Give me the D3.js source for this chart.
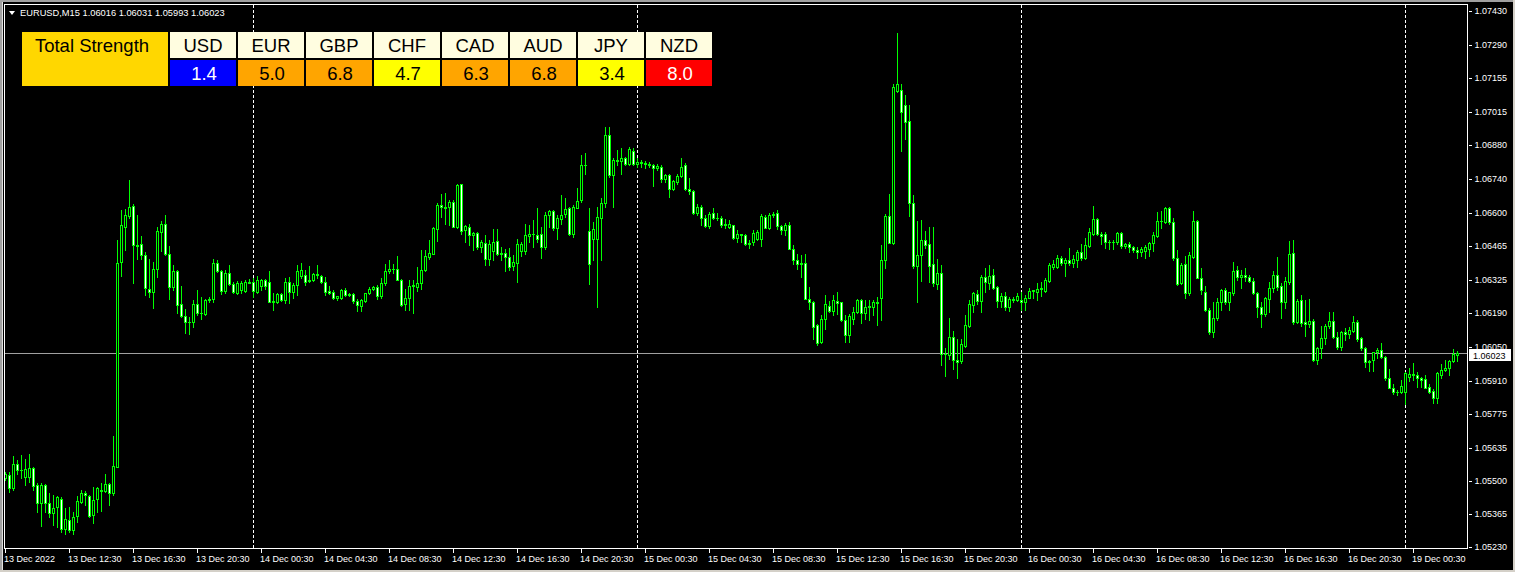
<!DOCTYPE html>
<html><head><meta charset="utf-8">
<script src="https://cdn.jsdelivr.net/npm/d3@7"></script>
<style>
html,body{margin:0;padding:0;background:#000;overflow:hidden}
svg{display:block}
text{font-family:"Liberation Sans",Arial,sans-serif}
</style></head>
<body>
<svg id="chart" width="1515" height="572"></svg>
<script>
// ---------- data (EURUSD M15, bar 0 = 13 Dec 2022 08:30) ----------
const symbolTitle = "EURUSD,M15";
const lastQuote = ["1.06016","1.06031","1.05993","1.06023"];
const currentPrice = 1.06023;

const opens = [
1.05510,1.05523,1.05471,1.05571,1.05544,1.05514,1.05514,1.05553,1.05482,1.05407,
1.05482,1.05407,1.05366,1.05391,1.05427,1.05304,1.05341,1.05300,1.05355,1.05414,
1.05452,1.05438,1.05359,1.05427,1.05458,1.05459,1.05486,1.05451,1.05557,1.06399,
1.06540,1.06588,1.06627,1.06467,1.06471,1.06426,1.06289,1.06276,1.06369,1.06522,
1.06556,1.06433,1.06296,1.06360,1.06224,1.06177,1.06153,1.06150,1.06224,1.06190,
1.06183,1.06241,1.06248,1.06396,1.06360,1.06280,1.06351,1.06306,1.06272,1.06285,
1.06278,1.06317,1.06317,1.06276,1.06299,1.06324,1.06314,1.06237,1.06232,1.06265,
1.06241,1.06314,1.06273,1.06303,1.06340,1.06344,1.06326,1.06326,1.06347,1.06340,
1.06317,1.06278,1.06276,1.06252,1.06251,1.06285,1.06262,1.06265,1.06237,1.06218,
1.06239,1.06269,1.06287,1.06296,1.06259,1.06310,1.06360,1.06369,1.06371,1.06326,
1.06225,1.06252,1.06299,1.06296,1.06310,1.06367,1.06419,1.06433,1.06533,1.06631,
1.06625,1.06622,1.06645,1.06542,1.06718,1.06529,1.06542,1.06508,1.06519,1.06458,
1.06477,1.06410,1.06443,1.06484,1.06433,1.06436,1.06417,1.06382,1.06396,1.06444,
1.06444,1.06505,1.06512,1.06508,1.06515,1.06460,1.06593,1.06607,1.06538,1.06574,
1.06597,1.06618,1.06515,1.06620,1.06652,1.06798,1.06525,1.06492,1.06494,1.06579,
1.06642,1.06921,1.06754,1.06813,1.06811,1.06825,1.06802,1.06853,1.06802,1.06809,
1.06806,1.06802,1.06797,1.06782,1.06789,1.06738,1.06757,1.06697,1.06727,1.06752,
1.06795,1.06697,1.06689,1.06601,1.06624,1.06577,1.06546,1.06601,1.06579,1.06577,
1.06555,1.06542,1.06549,1.06497,1.06512,1.06511,1.06474,1.06481,1.06494,1.06494,
1.06583,1.06536,1.06593,1.06601,1.06545,1.06531,1.06552,1.06453,1.06408,1.06388,
1.06396,1.06248,1.06232,1.06139,1.06068,1.06163,1.06218,1.06196,1.06237,1.06232,
1.06159,1.06100,1.06166,1.06191,1.06241,1.06187,1.06214,1.06214,1.06232,1.06251,
1.06406,1.06587,1.06478,1.07100,1.07103,1.07042,1.06976,1.06642,1.06382,1.06426,
1.06488,1.06474,1.06388,1.06306,1.06355,1.06022,1.06016,1.06091,1.05995,1.05993,
1.06055,1.06137,1.06222,1.06265,1.06238,1.06338,1.06311,1.06345,1.06297,1.06238,
1.06259,1.06215,1.06246,1.06242,1.06241,1.06233,1.06252,1.06279,1.06276,1.06287,
1.06279,1.06320,1.06379,1.06379,1.06416,1.06393,1.06406,1.06393,1.06406,1.06438,
1.06413,1.06465,1.06512,1.06575,1.06513,1.06512,1.06481,1.06479,1.06479,1.06516,
1.06465,1.06471,1.06461,1.06449,1.06440,1.06443,1.06451,1.06475,1.06506,1.06566,
1.06561,1.06621,1.06561,1.06413,1.06310,1.06388,1.06269,1.06420,1.06566,1.06334,
1.06276,1.06201,1.06112,1.06167,1.06235,1.06283,1.06235,1.06269,1.06365,1.06338,
1.06345,1.06335,1.06320,1.06269,1.06215,1.06183,1.06246,1.06290,1.06345,1.06301,
1.06233,1.06315,1.06434,1.06150,1.06242,1.06150,1.06142,1.06156,1.05996,1.06044,
1.06085,1.06135,1.06156,1.06092,1.06051,1.06109,1.06101,1.06115,1.06153,1.06085,
1.06044,1.05989,1.05996,1.06027,1.06037,1.06007,1.05923,1.05882,1.05866,1.05866,
1.05863,1.05928,1.05938,1.05935,1.05920,1.05918,1.05886,1.05868,1.05839,1.05934,
1.05955,1.05962,1.05992,1.06016];

const highs = [
1.05537,1.05537,1.05601,1.05585,1.05605,1.05588,1.05609,1.05557,1.05489,1.05493,
1.05485,1.05452,1.05441,1.05437,1.05432,1.05387,1.05393,1.05373,1.05437,1.05462,
1.05459,1.05441,1.05475,1.05475,1.05489,1.05527,1.05493,1.05683,1.06488,1.06611,
1.06614,1.06734,1.06638,1.06590,1.06506,1.06440,1.06412,1.06399,1.06540,1.06567,
1.06590,1.06463,1.06385,1.06365,1.06299,1.06207,1.06173,1.06244,1.06282,1.06255,
1.06248,1.06255,1.06412,1.06408,1.06365,1.06367,1.06385,1.06317,1.06321,1.06319,
1.06324,1.06330,1.06334,1.06340,1.06330,1.06330,1.06360,1.06272,1.06269,1.06269,
1.06334,1.06337,1.06310,1.06385,1.06392,1.06365,1.06381,1.06354,1.06384,1.06344,
1.06337,1.06299,1.06282,1.06258,1.06289,1.06293,1.06269,1.06269,1.06248,1.06248,
1.06272,1.06296,1.06299,1.06303,1.06334,1.06388,1.06406,1.06388,1.06422,1.06330,
1.06289,1.06326,1.06326,1.06376,1.06447,1.06447,1.06488,1.06542,1.06641,1.06679,
1.06683,1.06652,1.06652,1.06718,1.06720,1.06549,1.06553,1.06522,1.06522,1.06488,
1.06508,1.06488,1.06533,1.06533,1.06460,1.06453,1.06456,1.06426,1.06494,1.06481,
1.06556,1.06549,1.06570,1.06620,1.06542,1.06604,1.06611,1.06611,1.06590,1.06675,
1.06659,1.06624,1.06631,1.06702,1.06836,1.06847,1.06620,1.06563,1.06624,1.06661,
1.06953,1.06953,1.06823,1.06857,1.06864,1.06830,1.06871,1.06867,1.06823,1.06816,
1.06812,1.06809,1.06802,1.06802,1.06796,1.06761,1.06761,1.06734,1.06761,1.06827,
1.06805,1.06741,1.06693,1.06638,1.06631,1.06590,1.06604,1.06620,1.06601,1.06587,
1.06574,1.06570,1.06552,1.06529,1.06515,1.06515,1.06488,1.06529,1.06529,1.06597,
1.06590,1.06601,1.06604,1.06611,1.06552,1.06560,1.06563,1.06467,1.06429,1.06426,
1.06433,1.06296,1.06237,1.06142,1.06180,1.06262,1.06237,1.06262,1.06276,1.06235,
1.06180,1.06183,1.06214,1.06245,1.06248,1.06241,1.06241,1.06241,1.06255,1.06467,
1.06597,1.06679,1.07130,1.07340,1.07130,1.07083,1.07044,1.06675,1.06566,1.06570,
1.06525,1.06542,1.06542,1.06412,1.06385,1.06046,1.06169,1.06114,1.06084,1.06082,
1.06181,1.06242,1.06276,1.06283,1.06345,1.06372,1.06386,1.06369,1.06301,1.06269,
1.06276,1.06256,1.06256,1.06269,1.06276,1.06263,1.06290,1.06283,1.06310,1.06315,
1.06331,1.06393,1.06406,1.06427,1.06424,1.06413,1.06457,1.06427,1.06447,1.06471,
1.06495,1.06536,1.06628,1.06577,1.06523,1.06523,1.06488,1.06488,1.06520,1.06520,
1.06475,1.06479,1.06465,1.06461,1.06461,1.06468,1.06481,1.06520,1.06605,1.06607,
1.06625,1.06625,1.06580,1.06447,1.06393,1.06424,1.06440,1.06607,1.06570,1.06372,
1.06301,1.06208,1.06235,1.06249,1.06287,1.06290,1.06276,1.06399,1.06383,1.06365,
1.06375,1.06345,1.06334,1.06273,1.06235,1.06256,1.06315,1.06361,1.06420,1.06310,
1.06338,1.06484,1.06488,1.06246,1.06263,1.06242,1.06246,1.06164,1.06051,1.06135,
1.06142,1.06191,1.06191,1.06112,1.06115,1.06126,1.06133,1.06178,1.06160,1.06092,
1.06051,1.05997,1.06030,1.06047,1.06064,1.06014,1.05959,1.05896,1.05873,1.05914,
1.05948,1.05962,1.05982,1.05948,1.05927,1.05934,1.05896,1.05877,1.05945,1.05978,
1.05996,1.05996,1.06041,1.06031];

const lows = [
1.05503,1.05455,1.05462,1.05530,1.05510,1.05482,1.05496,1.05462,1.05373,1.05315,
1.05373,1.05352,1.05318,1.05311,1.05291,1.05280,1.05291,1.05280,1.05332,1.05407,
1.05400,1.05352,1.05328,1.05373,1.05377,1.05455,1.05400,1.05441,1.05555,1.06340,
1.06447,1.06577,1.06310,1.06412,1.06412,1.06262,1.06255,1.06211,1.06337,1.06444,
1.06426,1.06248,1.06285,1.06187,1.06173,1.06107,1.06102,1.06132,1.06180,1.06166,
1.06180,1.06235,1.06235,1.06358,1.06265,1.06272,1.06303,1.06272,1.06266,1.06272,
1.06273,1.06310,1.06255,1.06269,1.06282,1.06289,1.06233,1.06200,1.06228,1.06237,
1.06228,1.06231,1.06252,1.06262,1.06334,1.06303,1.06314,1.06321,1.06334,1.06310,
1.06262,1.06266,1.06248,1.06241,1.06248,1.06258,1.06258,1.06228,1.06198,1.06198,
1.06235,1.06266,1.06282,1.06248,1.06252,1.06303,1.06351,1.06351,1.06324,1.06219,
1.06200,1.06200,1.06190,1.06280,1.06289,1.06362,1.06412,1.06429,1.06485,1.06583,
1.06556,1.06549,1.06540,1.06536,1.06515,1.06481,1.06467,1.06449,1.06453,1.06440,
1.06385,1.06385,1.06406,1.06426,1.06406,1.06362,1.06364,1.06364,1.06317,1.06423,
1.06433,1.06481,1.06460,1.06481,1.06415,1.06451,1.06542,1.06529,1.06494,1.06556,
1.06583,1.06511,1.06501,1.06618,1.06645,1.06761,1.06306,1.06406,1.06214,1.06406,
1.06624,1.06748,1.06624,1.06795,1.06761,1.06798,1.06798,1.06798,1.06789,1.06789,
1.06785,1.06789,1.06711,1.06775,1.06727,1.06727,1.06665,1.06693,1.06720,1.06748,
1.06693,1.06679,1.06597,1.06590,1.06552,1.06542,1.06538,1.06574,1.06570,1.06542,
1.06536,1.06536,1.06494,1.06481,1.06481,1.06467,1.06456,1.06467,1.06488,1.06464,
1.06536,1.06533,1.06583,1.06533,1.06515,1.06511,1.06451,1.06388,1.06371,1.06337,
1.06245,1.06207,1.06084,1.06057,1.06064,1.06125,1.06191,1.06180,1.06183,1.06155,
1.06068,1.06070,1.06142,1.06187,1.06146,1.06166,1.06159,1.06180,1.06139,1.06159,
1.06374,1.06478,1.06474,1.07096,1.06853,1.06905,1.06587,1.06374,1.06232,1.06319,
1.06456,1.06317,1.06300,1.06289,1.05977,1.05931,1.06002,1.05961,1.05920,1.05985,
1.06051,1.06133,1.06194,1.06224,1.06191,1.06276,1.06287,1.06287,1.06215,1.06215,
1.06201,1.06197,1.06235,1.06238,1.06201,1.06201,1.06249,1.06249,1.06242,1.06260,
1.06273,1.06315,1.06369,1.06375,1.06386,1.06342,1.06386,1.06379,1.06379,1.06406,
1.06410,1.06461,1.06509,1.06509,1.06471,1.06454,1.06451,1.06451,1.06471,1.06457,
1.06457,1.06438,1.06438,1.06413,1.06424,1.06416,1.06424,1.06443,1.06502,1.06536,
1.06557,1.06553,1.06406,1.06304,1.06306,1.06252,1.06263,1.06413,1.06331,1.06265,
1.06197,1.06101,1.06092,1.06160,1.06201,1.06224,1.06201,1.06263,1.06324,1.06290,
1.06320,1.06315,1.06265,1.06174,1.06133,1.06178,1.06191,1.06276,1.06283,1.06170,
1.06211,1.06306,1.06142,1.06146,1.06137,1.06096,1.06133,1.05992,1.05978,1.06005,
1.06060,1.06126,1.06087,1.06041,1.06037,1.06078,1.06085,1.06112,1.06074,1.06037,
1.05968,1.05951,1.05951,1.06003,1.06003,1.05914,1.05880,1.05855,1.05852,1.05859,
1.05814,1.05910,1.05914,1.05886,1.05886,1.05880,1.05859,1.05818,1.05818,1.05923,
1.05951,1.05934,1.05989,1.05993];

const closes = [
1.05527,1.05469,1.05571,1.05544,1.05545,1.05547,1.05551,1.05478,1.05411,1.05482,
1.05411,1.05366,1.05387,1.05432,1.05304,1.05345,1.05300,1.05352,1.05417,1.05452,
1.05441,1.05356,1.05423,1.05469,1.05464,1.05486,1.05451,1.05560,1.06392,1.06549,
1.06590,1.06622,1.06467,1.06464,1.06426,1.06293,1.06276,1.06371,1.06525,1.06556,
1.06430,1.06296,1.06360,1.06221,1.06177,1.06153,1.06151,1.06224,1.06190,1.06187,
1.06241,1.06246,1.06396,1.06362,1.06280,1.06351,1.06306,1.06273,1.06310,1.06310,
1.06317,1.06313,1.06280,1.06326,1.06324,1.06299,1.06235,1.06232,1.06265,1.06241,
1.06314,1.06273,1.06303,1.06360,1.06365,1.06317,1.06321,1.06347,1.06344,1.06317,
1.06276,1.06272,1.06252,1.06258,1.06282,1.06262,1.06266,1.06237,1.06221,1.06241,
1.06269,1.06287,1.06296,1.06259,1.06310,1.06360,1.06369,1.06371,1.06326,1.06221,
1.06252,1.06299,1.06303,1.06313,1.06367,1.06423,1.06437,1.06536,1.06631,1.06625,
1.06620,1.06645,1.06542,1.06713,1.06526,1.06545,1.06508,1.06519,1.06460,1.06481,
1.06412,1.06474,1.06481,1.06433,1.06437,1.06417,1.06378,1.06399,1.06471,1.06474,
1.06508,1.06515,1.06515,1.06494,1.06460,1.06593,1.06607,1.06538,1.06577,1.06593,
1.06615,1.06515,1.06624,1.06649,1.06798,1.06795,1.06388,1.06533,1.06583,1.06642,
1.06919,1.06754,1.06816,1.06816,1.06823,1.06802,1.06861,1.06802,1.06809,1.06806,
1.06802,1.06797,1.06782,1.06791,1.06738,1.06754,1.06697,1.06730,1.06752,1.06790,
1.06697,1.06690,1.06601,1.06624,1.06577,1.06546,1.06597,1.06579,1.06577,1.06552,
1.06549,1.06553,1.06497,1.06514,1.06507,1.06474,1.06477,1.06519,1.06522,1.06587,
1.06538,1.06593,1.06597,1.06546,1.06531,1.06552,1.06453,1.06406,1.06388,1.06396,
1.06248,1.06232,1.06132,1.06064,1.06163,1.06224,1.06196,1.06241,1.06228,1.06159,
1.06098,1.06177,1.06194,1.06241,1.06187,1.06214,1.06218,1.06232,1.06228,1.06406,
1.06587,1.06478,1.07117,1.07127,1.07012,1.06973,1.06642,1.06382,1.06426,1.06488,
1.06467,1.06382,1.06310,1.06355,1.06022,1.06019,1.06091,1.05995,1.05988,1.06060,
1.06139,1.06224,1.06269,1.06238,1.06338,1.06315,1.06341,1.06293,1.06238,1.06259,
1.06215,1.06246,1.06242,1.06259,1.06233,1.06252,1.06279,1.06283,1.06287,1.06290,
1.06324,1.06386,1.06388,1.06416,1.06393,1.06406,1.06393,1.06410,1.06438,1.06416,
1.06468,1.06520,1.06575,1.06512,1.06506,1.06479,1.06479,1.06481,1.06516,1.06465,
1.06471,1.06461,1.06447,1.06440,1.06451,1.06458,1.06475,1.06509,1.06566,1.06568,
1.06618,1.06561,1.06413,1.06306,1.06386,1.06269,1.06427,1.06566,1.06334,1.06283,
1.06201,1.06112,1.06167,1.06235,1.06283,1.06235,1.06273,1.06361,1.06338,1.06344,
1.06338,1.06320,1.06269,1.06215,1.06183,1.06249,1.06290,1.06345,1.06297,1.06233,
1.06320,1.06430,1.06150,1.06238,1.06146,1.06142,1.06156,1.05996,1.06044,1.06085,
1.06135,1.06156,1.06092,1.06051,1.06109,1.06101,1.06119,1.06153,1.06082,1.06044,
1.05989,1.05993,1.06027,1.06037,1.06010,1.05923,1.05882,1.05863,1.05863,1.05890,
1.05941,1.05938,1.05933,1.05923,1.05914,1.05882,1.05866,1.05839,1.05941,1.05955,
1.05962,1.05992,1.06019,1.06023];

// price-axis tick labels
const priceTicks = [1.07430,1.07290,1.07155,1.07015,1.06880,1.06740,1.06600,1.06465,1.06325,
                    1.06190,1.06050,1.05910,1.05775,1.05635,1.05500,1.05365,1.05230];
// time-axis ticks: bar index and label
const timeTickBars = [0,16,32,48,64,80,96,112,128,144,160,176,192,208,224,240,256,272,288,304,320,336,352];
const timeTickLabels = ["13 Dec 2022","13 Dec 12:30","13 Dec 16:30","13 Dec 20:30","14 Dec 00:30","14 Dec 04:30",
  "14 Dec 08:30","14 Dec 12:30","14 Dec 16:30","14 Dec 20:30","15 Dec 00:30","15 Dec 04:30","15 Dec 08:30",
  "15 Dec 12:30","15 Dec 16:30","15 Dec 20:30","16 Dec 00:30","16 Dec 04:30","16 Dec 08:30","16 Dec 12:30",
  "16 Dec 16:30","16 Dec 20:30","19 Dec 00:30"];
// day separators (first bar of each new day)
const daySeparatorBars = [62,158,254,350];

// currency strength table
const currencies = ["USD","EUR","GBP","CHF","CAD","AUD","JPY","NZD"];
const strengths = [1.4,5.0,6.8,4.7,6.3,6.8,3.4,8.0];
const strengthTitle = "Total Strength";

// ---------- drawing ----------
const W = 1515, H = 572;
const svg = d3.select("#chart");
const N = opens.length;
const plotL = 4, plotT = 4, plotR = 1467, plotB = 548;
const axisFont = "9px";

const x = d3.scaleLinear().domain([0, N - 1]).range([5, 5 + 4 * (N - 1)]);
const y = d3.scaleLinear().domain([1.05230, 1.07430]).range([546.6, 10.6]);

// window chrome
svg.append("rect").attr("x",0).attr("y",0).attr("width",W).attr("height",H).attr("fill","#000");
svg.append("rect").attr("x",0).attr("y",0).attr("width",W).attr("height",2).attr("fill","#a0a0a0");
svg.append("rect").attr("x",0).attr("y",0).attr("width",2).attr("height",H).attr("fill","#a0a0a0");
svg.append("rect").attr("x",2).attr("y",2).attr("width",1).attr("height",H-2).attr("fill","#e0e0e0");
svg.append("rect").attr("x",0).attr("y",H-2).attr("width",W).attr("height",2).attr("fill","#d4d0c8");
svg.append("rect").attr("x",W-2).attr("y",0).attr("width",2).attr("height",H).attr("fill","#d4d0c8");

const plot = svg.append("g").attr("shape-rendering","crispEdges");

// day separators (dashed white)
plot.selectAll("line.sep").data(daySeparatorBars).join("line")
  .attr("class","sep")
  .attr("x1", d => Math.round(x(d)) + 0.5).attr("x2", d => Math.round(x(d)) + 0.5)
  .attr("y1", plotT + 1).attr("y2", plotB)
  .attr("stroke","#fff").attr("stroke-width",1).attr("stroke-dasharray","3,2");

// current price line
const cpY = Math.round(y(currentPrice)) + 0.5;
plot.append("line").attr("x1", plotL + 1).attr("x2", plotR).attr("y1", cpY).attr("y2", cpY)
  .attr("stroke","#a0a0a0").attr("stroke-width",1);

// candles
const bars = d3.range(N).map(i => ({i, o: opens[i], h: highs[i], l: lows[i], c: closes[i]}));
const cg = plot.append("g");
bars.forEach(b => {
  const cx = Math.round(x(b.i));
  const yh = Math.round(y(b.h)), yl = Math.round(y(b.l));
  const top = Math.round(y(Math.max(b.o, b.c))), bot = Math.round(y(Math.min(b.o, b.c)));
  cg.append("rect").attr("x", cx).attr("y", yh).attr("width", 1).attr("height", Math.max(1, yl - yh + 1)).attr("fill", "#00ff00");
  cg.append("rect").attr("x", cx - 1).attr("y", top).attr("width", 3).attr("height", Math.max(1, bot - top + 1)).attr("fill", "#00ff00");
  if (bot - top >= 2) {
    cg.append("rect").attr("x", cx).attr("y", top + 1).attr("width", 1).attr("height", bot - top - 1)
      .attr("fill", b.c >= b.o ? "#000000" : "#ffffff");
  }
});

// plot frame
plot.append("rect").attr("x", plotL + 0.5).attr("y", plotT + 0.5)
  .attr("width", plotR - plotL).attr("height", plotB - plotT)
  .attr("fill","none").attr("stroke","#fff").attr("stroke-width",1);

// price axis
const yAxis = d3.axisRight(y).tickValues(priceTicks).tickFormat(d3.format(".5f")).tickSize(3).tickPadding(3);
const ya = svg.append("g").attr("transform", `translate(${plotR + 1.5},0)`).call(yAxis);
ya.select(".domain").remove();
ya.selectAll(".tick line").attr("stroke","#fff").attr("shape-rendering","crispEdges");
ya.selectAll(".tick text").attr("fill","#fff").attr("font-size",axisFont)
  .attr("font-family",'"Liberation Sans",Arial,sans-serif');

// current price label (drawn over the axis)
const cpTop = Math.round(y(currentPrice)) - 4;
const cpg = svg.append("g");
cpg.append("rect").attr("x", plotR + 2).attr("y", cpTop).attr("width", 42).attr("height", 12)
  .attr("fill","#fff");
cpg.append("text").attr("x", plotR + 6).attr("y", cpTop + 9.6)
  .attr("font-size",axisFont).attr("fill","#000").text(currentPrice.toFixed(5));

// time axis
const tg = svg.append("g");
timeTickBars.forEach((b, k) => {
  const tx = Math.round(x(b));
  tg.append("rect").attr("x", tx).attr("y", plotB + 1).attr("width", 1).attr("height", 4).attr("fill","#fff");
  tg.append("text").attr("x", tx - 1).attr("y", 562).attr("font-size",axisFont).attr("fill","#fff")
    .text(timeTickLabels[k]);
});

// title
svg.append("path").attr("d","M9,11 L15,11 L12,15 Z").attr("fill","#fff");
svg.append("text").attr("x", 20).attr("y", 16).attr("font-size","9.3px").attr("fill","#fff")
  .text(symbolTitle + "  " + lastQuote.join(" "));

// strength table
const tbl = svg.append("g");
tbl.append("rect").attr("x",22).attr("y",32).attr("width",146).attr("height",54).attr("fill","#ffd700");
tbl.append("text").attr("x",92).attr("y",52).attr("text-anchor","middle").attr("font-size","18.5px")
  .attr("fill","#000").text(strengthTitle);
const colorFor = v => v >= 7.5 ? "#ff0000" : v >= 5 ? "#ffa500" : v >= 2 ? "#ffff00" : "#0000ff";
const textFor = v => (v >= 7.5 || v < 2) ? "#ffffff" : "#000000";
const cellX = d3.scaleBand().domain(currencies).range([170, 170 + 68 * currencies.length]).paddingInner(0);
currencies.forEach((c, k) => {
  const cx0 = cellX(c);
  tbl.append("rect").attr("x", cx0).attr("y", 32).attr("width", 66).attr("height", 26).attr("fill", "#fffde0");
  tbl.append("text").attr("x", cx0 + 33).attr("y", 52).attr("text-anchor","middle").attr("font-size","18.5px")
    .attr("fill","#000").text(c);
  const v = strengths[k];
  tbl.append("rect").attr("x", cx0).attr("y", 60).attr("width", 66).attr("height", 26).attr("fill", colorFor(v));
  tbl.append("text").attr("x", cx0 + 34).attr("y", 80).attr("text-anchor","middle").attr("font-size","18.5px")
    .attr("fill", textFor(v)).text(v.toFixed(1));
});
</script>
</body></html>
